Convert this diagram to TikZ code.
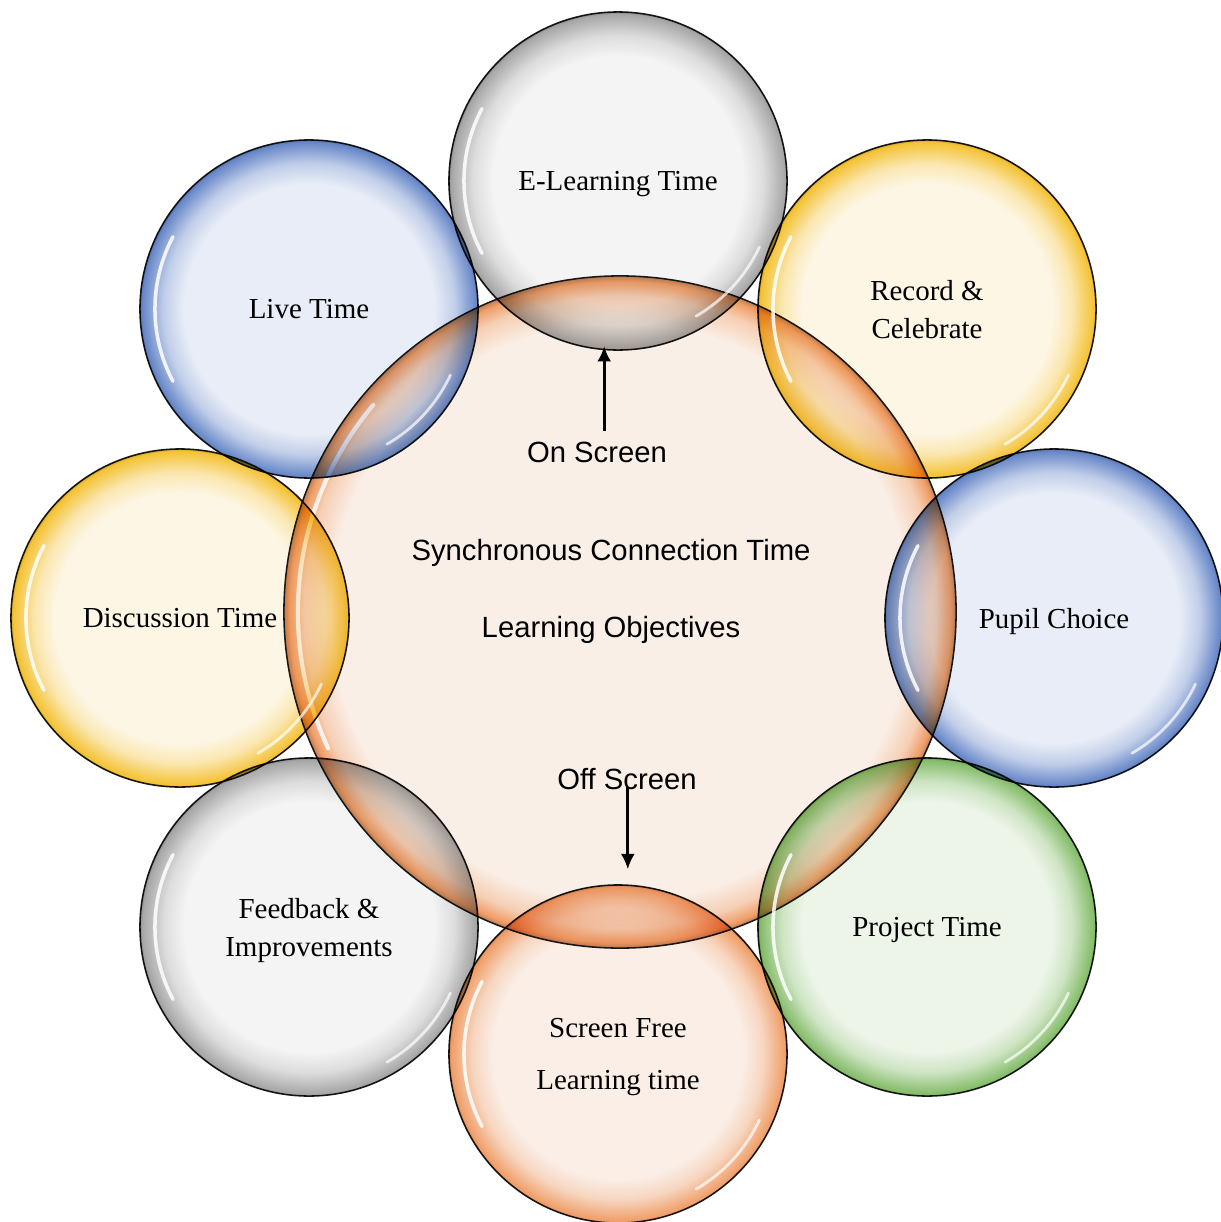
\documentclass[tikz,border=0pt]{standalone}
\usepackage{fontspec}
\setmainfont{Liberation Serif}
\setsansfont{Liberation Sans}
\usetikzlibrary{calc,arrows.meta}

\definecolor{greyedge}{HTML}{A6A6A6}
\definecolor{greyinner}{HTML}{F4F4F4}
\definecolor{goldedge}{HTML}{F4C233}
\definecolor{goldinner}{HTML}{FDF6E4}
\definecolor{blueedge}{HTML}{6787C8}
\definecolor{blueinner}{HTML}{E8EDF7}
\definecolor{greenedge}{HTML}{84BC69}
\definecolor{greeninner}{HTML}{EDF5E9}
\definecolor{orangeedge}{HTML}{F09E68}
\definecolor{orangeinner}{HTML}{FAEEE6}
\definecolor{coreinner}{HTML}{FAEFE7}

\colorlet{bubbleedge}{greyedge}
\colorlet{bubbleinner}{greyinner}

% glossy ring for the small circles (border of the circle sits at 25bp)
\pgfdeclareradialshading[bubbleedge,bubbleinner]{bubble}{\pgfpoint{0bp}{0bp}}{%
  color(0bp)=(bubbleinner); color(18.5bp)=(bubbleinner);
  color(21.5bp)=(bubbleedge!30!bubbleinner); color(23.8bp)=(bubbleedge!80!bubbleinner);
  color(24.7bp)=(bubbleedge); color(25bp)=(bubbleedge!85!black); color(50bp)=(bubbleedge!85!black)}
% thinner ring for the big one
\pgfdeclareradialshading[bubbleedge,bubbleinner]{corebubble}{\pgfpoint{0bp}{0bp}}{%
  color(0bp)=(bubbleinner); color(21.5bp)=(bubbleinner);
  color(23.5bp)=(bubbleedge!40!bubbleinner); color(24.6bp)=(bubbleedge);
  color(25bp)=(bubbleedge!80!black); color(50bp)=(bubbleedge!80!black)}

\tikzset{
  tone/.style 2 args={/utils/exec={\colorlet{bubbleedge}{#1}\colorlet{bubbleinner}{#2}}},
  greybubble/.style={tone={greyedge}{greyinner}},
  goldbubble/.style={tone={goldedge}{goldinner}},
  bluebubble/.style={tone={blueedge}{blueinner}},
  greenbubble/.style={tone={greenedge}{greeninner}},
  orangebubble/.style={tone={orangeedge}{orangeinner}},
}

\begin{document}
\begin{tikzpicture}[x=0.025cm,y=-0.025cm,
  petal/.style={circle,draw=black!90,line width=1.1pt,minimum size=8.45cm,inner sep=0pt,
    shading=bubble,blend mode=multiply,align=center,text depth=0pt,
    font=\fontsize{20.6pt}{27pt}\selectfont,
    path picture={
      \draw[white,line width=2.5pt,draw opacity=0.85,line cap=round,blend mode=normal]
        ($ (path picture bounding box.center) + (152:3.85cm) $) arc (152:208:3.85cm);
      \draw[white,line width=2pt,draw opacity=0.7,line cap=round,blend mode=normal]
        ($ (path picture bounding box.center) + (-25:3.9cm) $) arc (-25:-60:3.9cm);}},
  core/.style={circle,draw=black!90,line width=1.1pt,minimum size=16.8cm,inner sep=0pt,
    shading=corebubble,tone={orangeedge}{coreinner},
    path picture={
      \draw[white,line width=3pt,draw opacity=0.8,line cap=round]
        ($ (path picture bounding box.center) + (140:8.05cm) $) arc (140:205:8.05cm);}},
  caption/.style={font=\sffamily\fontsize{20.8pt}{25pt}\selectfont,text depth=0pt},
  arrow/.style={-{Latex[length=11pt,width=10pt]},line width=2.2pt}]
  \useasboundingbox (0,0) rectangle (1221,1222);
  \node[core] (core) at (620,612) {};
  \node[petal,greybubble] (elearn) at ($ (core) + (-2,-431) $) {E-Learning Time};
  \node[petal,goldbubble] (record) at ($ (core) + (307,-303) $) {Record \&\\Celebrate};
  \node[petal,bluebubble] (pupil) at ($ (core) + (434,6) $) {Pupil Choice};
  \node[petal,greenbubble] (project) at ($ (core) + (307,315) $) {Project Time};
  \node[petal,orangebubble] (screenfree) at ($ (core) + (-2,442) $) {Screen Free\\[10pt]Learning time};
  \node[petal,greybubble] (feedback) at ($ (core) + (-311,315) $) {Feedback \&\\Improvements};
  \node[petal,goldbubble] (discussion) at ($ (core) + (-440,6) $) {Discussion Time};
  \node[petal,bluebubble] (live) at ($ (core) + (-311,-303) $) {Live Time};
  \node[caption] (onscreen) at ($ (core) + (-23,-160) $) {On Screen};
  \node[caption] (synch) at ($ (core) + (-9,-62) $) {Synchronous Connection Time};
  \node[caption] (objectives) at ($ (core) + (-9,15) $) {Learning Objectives};
  \node[caption] (offscreen) at ($ (core) + (7,167) $) {Off Screen};
  \draw[arrow,shorten <=0.15cm,shorten >=-0.12cm] ([xshift=0.18cm]onscreen.north) -- ([xshift=0.18cm]onscreen.north |- elearn.south);
  \draw[arrow,shorten >=0.37cm] ([xshift=0.02cm,yshift=0.2cm]offscreen.south) -- ([xshift=0.02cm]offscreen.south |- screenfree.north);
\end{tikzpicture}
\end{document}
